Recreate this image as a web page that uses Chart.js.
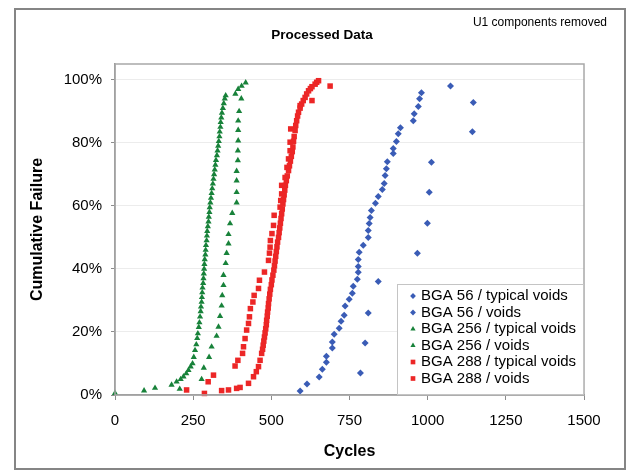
<!DOCTYPE html>
<html>
<head>
<meta charset="utf-8">
<script src="https://cdn.jsdelivr.net/npm/chart.js"></script>
<style>
  body { margin: 0; background: #fff; }
  #wrap { position: relative; width: 632px; height: 472px; }
</style>
</head>
<body>
<div id="wrap"><canvas id="chart"></canvas></div>
<script>
// Axis ticks
const xTicks = [0, 250, 500, 750, 1000, 1250, 1500];
const yTicks = [0, 20, 40, 60, 80, 100];

// BGA 56
const bga56TypCycles = [592, 614, 653, 663, 676, 676, 695, 695, 701, 717, 723, 733, 736, 749, 759, 762, 775, 778, 778, 778, 781, 794,
  810, 810, 813, 816, 820, 833, 842, 855, 861, 864, 868, 871, 890, 890, 900, 906, 913, 954, 957, 970, 974, 980];
const bga56TypPct = [1.3, 3.5, 5.7, 8.2, 10.4, 12.3, 14.9, 16.8, 19.3, 21.2, 23.4, 25.3, 28.2, 30.4, 32.3, 34.5, 36.7, 38.9, 40.8, 43.0, 45.3, 47.5,
  50.0, 52.2, 54.4, 56.3, 58.5, 60.8, 63.0, 65.2, 67.1, 69.6, 71.8, 74.0, 76.6, 78.2, 80.4, 82.9, 84.8, 87.0, 89.2, 91.5, 94.0, 95.9];
const bga56VoidCycles = [785, 800, 810, 842, 967, 999, 1005, 1012, 1143, 1146, 1073];
const bga56VoidPct = [7, 16.5, 26, 36, 45, 54.5, 64.3, 73.8, 83.5, 92.8, 98];

// BGA 256
const bga256TypCycles = [0, 93, 128, 181, 197, 210, 219, 228, 235, 242, 248, 252, 256, 260, 263, 265, 268, 270, 272, 274, 275, 277,
  278, 279, 280, 282, 283, 284, 285, 286, 287, 289, 290, 291, 293, 294, 295, 297, 299, 300, 302, 303, 305, 307, 309, 311,
  313, 315, 317, 319, 321, 323, 326, 328, 330, 332, 334, 335, 337, 338, 340, 342, 345, 348, 351, 354];
const bga256TypPct = [0.6, 1.4, 2.2, 3.2, 4.2, 5.0, 5.8, 6.8, 7.9, 9.0, 10.0, 12.0, 14.2, 16.0, 18.0, 19.5, 21.5, 23.0, 24.8, 26.5, 28.0, 29.5,
  31.0, 32.5, 34.0, 35.5, 37.0, 38.5, 40.0, 41.5, 43.0, 44.5, 46.0, 47.5, 49.0, 50.5, 52.0, 53.5, 55.0, 56.5, 58.0, 59.5, 61.0, 62.5, 64.0, 65.5,
  67.0, 68.5, 70.0, 71.5, 73.0, 74.5, 76.0, 77.5, 79.0, 80.5, 82.0, 83.5, 85.0, 86.5, 88.0, 89.5, 91.0, 92.5, 94.0, 95.0];
const bga256VoidCycles = [207, 277, 284, 301, 309, 325, 331, 336, 341, 343, 347, 347, 354, 357, 363, 363, 368, 375,
  389, 389, 389, 389, 393, 393, 394, 394, 394, 397, 404, 385, 394, 405, 418];
const bga256VoidPct = [1.9, 5.0, 8.6, 12.0, 15.3, 18.7, 21.6, 25.0, 28.3, 31.6, 34.8, 38.0, 41.8, 45.0, 48.0, 51.0, 54.4, 57.7,
  61.0, 64.3, 68.0, 71.0, 74.4, 77.5, 80.7, 84.0, 87.0, 90.0, 94.0, 95.5, 97.0, 98.0, 99.1];

// BGA 288
const bga288TypCycles = [341, 363, 389, 400, 427, 443, 452, 459, 464, 469, 472, 474, 476, 478, 480, 482, 484, 485, 487, 488, 490, 491,
  493, 495, 497, 500, 502, 505, 508, 510, 512, 514, 516, 518, 520, 523, 525, 527, 529, 531, 533, 535, 537, 539, 541, 543, 545,
  548, 551, 555, 558, 561, 564, 567, 569, 571, 573, 576, 578, 581, 584, 587, 592, 597, 602, 608, 613, 619, 625, 630, 640, 645, 651];
const bga288TypPct = [1.4, 1.6, 2.1, 2.4, 3.7, 5.8, 7.4, 9.0, 11.0, 13.2, 14.5, 15.8, 17.1, 18.4, 19.7, 21.0, 22.3, 23.7, 25.0, 26.3, 27.6, 29.0,
  30.5, 32.0, 33.5, 35.0, 36.5, 38.0, 39.6, 41.0, 42.5, 44.0, 45.5, 47.0, 48.5, 50.0, 51.5, 53.0, 54.5, 56.0, 57.5, 59.0, 60.6, 62.0, 63.5, 65.0, 66.5,
  68.0, 69.5, 71.2, 72.7, 74.2, 75.7, 77.2, 78.7, 80.5, 82.0, 83.9, 85.5, 87.0, 88.5, 89.7, 91.0, 92.3, 93.4, 94.4, 95.5, 96.5, 97.2, 97.8, 98.6, 99.2, 99.7];
const bga288VoidCycles = [229, 286, 298, 315, 384, 393, 408, 411, 416, 421, 427, 430, 433, 441, 445, 459, 462, 478, 491, 494, 496, 497,
  502, 507, 509, 528, 530, 533, 533, 544, 550, 555, 560, 560, 562, 592, 630, 688];
const bga288VoidPct = [1.6, 0.5, 4.2, 6.3, 9.2, 11.0, 13.2, 15.3, 17.9, 20.6, 22.7, 24.8, 27.4, 29.5, 31.6, 33.8, 36.4, 39.0, 42.7, 45.0, 46.9, 49.0,
  51.2, 53.8, 57.0, 59.6, 61.7, 63.8, 66.5, 69.0, 72.2, 74.9, 77.5, 80.2, 84.4, 91.8, 93.4, 98.0];

const FONT = 'Arial, "Liberation Sans", sans-serif';
const BLUE = '#3a5cb6';
const GREEN = '#18823a';
const RED = '#ec2626';

const series = [
    { label: 'BGA 56 / typical voids', cycles: bga56TypCycles, pct: bga56TypPct, color: BLUE, style: 'rectRot', radius: 3.5 },
    { label: 'BGA 56 / voids', cycles: bga56VoidCycles, pct: bga56VoidPct, color: BLUE, style: 'rectRot', radius: 3.5 },
    { label: 'BGA 256 / typical voids', cycles: bga256TypCycles, pct: bga256TypPct, color: GREEN, style: 'triangle', radius: 3.6 },
    { label: 'BGA 256 / voids', cycles: bga256VoidCycles, pct: bga256VoidPct, color: GREEN, style: 'triangle', radius: 3.6 },
    { label: 'BGA 288 / typical voids', cycles: bga288TypCycles, pct: bga288TypPct, color: RED, style: 'rect', radius: 3.9 },
    { label: 'BGA 288 / voids', cycles: bga288VoidCycles, pct: bga288VoidPct, color: RED, style: 'rect', radius: 3.9 }
];

function drawMarker(ctx, s, x, y) {
    ctx.fillStyle = s.color;
    ctx.strokeStyle = s.color;
    if (Chart.helpers && Chart.helpers.drawPoint) {
        Chart.helpers.drawPoint(ctx, { pointStyle: s.style, radius: s.radius - 0.6, rotation: 0, borderWidth: 0 }, x, y);
    } else {
        ctx.fillRect(x - 2.5, y - 2.5, 5, 5);
    }
}

// Frame, title, note, plot border and boxed legend
const decor = {
    id: 'decor',
    beforeDraw(chart) {
        const ctx = chart.ctx;
        ctx.save();
        ctx.fillStyle = '#fff';
        ctx.fillRect(0, 0, chart.width, chart.height);
        ctx.strokeStyle = '#858585';
        ctx.lineWidth = 2;
        ctx.strokeRect(15, 9, 610, 460);
        ctx.fillStyle = '#000';
        ctx.textBaseline = 'middle';
        ctx.font = 'bold 13.5px ' + FONT;
        ctx.textAlign = 'center';
        ctx.fillText('Processed Data', 322, 35);
        ctx.font = '12px ' + FONT;
        ctx.textAlign = 'right';
        ctx.fillText('U1 components removed', 607, 23);
        ctx.restore();
    },
    afterDraw(chart) {
        const { ctx, chartArea: a } = chart;
        ctx.save();
        ctx.strokeStyle = '#a8a8a8';
        ctx.lineWidth = 1.5;
        ctx.strokeRect(a.left, a.top, a.right - a.left, a.bottom - a.top);

        const w = 187, h = 111;
        const left = a.right - w, top = a.bottom - h;
        ctx.fillStyle = '#fff';
        ctx.fillRect(left, top, w, h);
        ctx.strokeStyle = '#c4c4c4';
        ctx.lineWidth = 1;
        ctx.strokeRect(left + 0.5, top + 0.5, w - 1, h - 1);

        ctx.font = '15px ' + FONT;
        ctx.textAlign = 'left';
        ctx.textBaseline = 'middle';
        series.forEach((s, i) => {
            const y = top + 12 + i * 16.5;
            drawMarker(ctx, s, left + 16, y);
            ctx.fillStyle = '#000';
            ctx.fillText(s.label, left + 24, y);
        });
        ctx.restore();
    }
};

new Chart(document.getElementById('chart'), {
    type: 'scatter',
    data: {
        datasets: series.map(s => ({
            label: s.label,
            data: s.cycles.map((c, i) => ({ x: c, y: s.pct[i] })),
            pointStyle: s.style,
            pointRadius: s.radius,
            pointBackgroundColor: s.color,
            pointBorderColor: s.color,
            pointBorderWidth: 0,
            clip: false
        }))
    },
    options: {
        responsive: true,
        maintainAspectRatio: false,
        animation: false,
        layout: { padding: { top: 64, right: 48, left: 0, bottom: 0 } },
        plugins: {
            legend: { display: false },
            tooltip: { enabled: false }
        },
        scales: {
            x: {
                type: 'linear',
                min: 0,
                max: 1500,
                afterBuildTicks: scale => { scale.ticks = xTicks.map(v => ({ value: v })); },
                afterFit: scale => { scale.height = 77; },
                grid: { drawOnChartArea: false, tickLength: 5, tickColor: '#8c8c8c' },
                border: { color: '#8c8c8c', width: 1.5 },
                ticks: { color: '#000', font: { family: FONT, size: 15 }, padding: 12, maxRotation: 0, autoSkip: false,
                    callback: v => String(v) },
                title: {
                    display: true,
                    text: 'Cycles',
                    color: '#000',
                    font: { family: FONT, size: 16, weight: 'bold' },
                    padding: { top: 0, bottom: 11 }
                }
            },
            y: {
                min: 0,
                max: 105,
                afterBuildTicks: scale => { scale.ticks = yTicks.map(v => ({ value: v })); },
                afterFit: scale => { scale.width = 115; },
                grid: { color: '#ececec', tickLength: 4, tickColor: '#8c8c8c' },
                border: { color: '#8c8c8c', width: 1.5 },
                ticks: { color: '#000', font: { family: FONT, size: 15 }, padding: 9, callback: v => v + '%' },
                title: {
                    display: true,
                    text: 'Cumulative Failure',
                    color: '#000',
                    font: { family: FONT, size: 16, weight: 'bold' },
                    padding: { top: 28, bottom: 0 }
                }
            }
        }
    },
    plugins: [decor]
});
</script>
</body>
</html>
